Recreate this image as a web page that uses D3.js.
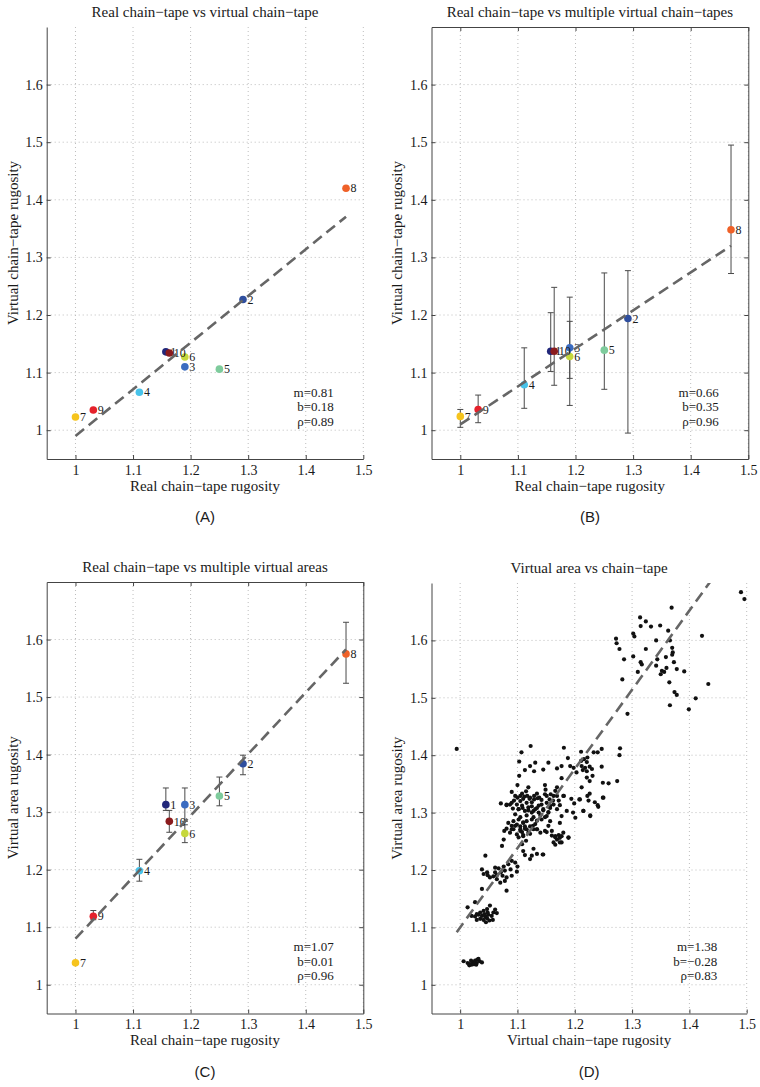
<!DOCTYPE html>
<html>
<head>
<meta charset="utf-8">
<script src="https://cdn.jsdelivr.net/npm/d3@7"></script>
<style>
  body { margin: 0; background: #fff; }
  text { font-family: "Liberation Serif", "Times New Roman", serif; fill: #1a1a1a; }
</style>
</head>
<body>
<script>
// Site numbers and their marker colours
const siteIds = [1, 2, 3, 4, 5, 6, 7, 8, 9, 10];
const siteColors = ["#21277a", "#2f4f9f", "#3b6cc0", "#48c3ea", "#7ecb9c", "#c6d83c", "#f6c41d", "#ef6128", "#e5212b", "#8a1b1d"];

// Real chain-tape rugosity (x for panels A-C)
const realTape = [1.157, 1.291, 1.19, 1.111, 1.25, 1.19, 1.0, 1.47, 1.031, 1.163];
// (A) single virtual chain-tape
const virtualTape = [1.136, 1.227, 1.110, 1.066, 1.106, 1.127, 1.023, 1.420, 1.035, 1.134];
// (B) multiple virtual chain-tapes: mean, min, max
const multiTapeMean = [1.137, 1.194, 1.143, 1.079, 1.139, 1.128, 1.024, 1.348, 1.036, 1.137];
const multiTapeLow = [1.102, 0.995, 1.090, 1.038, 1.071, 1.043, 1.005, 1.272, 1.013, 1.078];
const multiTapeHigh = [1.204, 1.277, 1.231, 1.143, 1.273, 1.189, 1.036, 1.495, 1.061, 1.248];
// (C) multiple virtual areas: mean, min, max
const multiAreaMean = [1.313, 1.384, 1.313, 1.198, 1.328, 1.263, 1.038, 1.575, 1.119, 1.284];
const multiAreaLow = [1.303, 1.365, 1.284, 1.180, 1.311, 1.247, 1.036, 1.524, 1.113, 1.265];
const multiAreaHigh = [1.342, 1.399, 1.342, 1.218, 1.361, 1.278, 1.040, 1.630, 1.129, 1.303];

// (D) every virtual chain-tape vs virtual area
const allTape = [
  1.490,1.496,1.369,1.314,1.324,1.315,1.302,1.304,1.333,1.349,1.363,1.422,1.272,1.273,1.278,1.324,1.342,1.366,1.370,1.371,1.370,1.286,1.302,1.315,1.317,1.344,1.359,1.342,1.373,1.378,1.360,1.352,1.356,1.350,1.310,1.391,1.365,1.283,1.374,1.378,1.366,1.411,1.433,1.399,1.292,
  0.994,1.107,1.123,1.181,1.211,1.247,1.279,1.278,1.233,1.240,1.222,1.188,1.103,1.131,1.154,1.169,1.177,1.192,1.198,1.211,1.216,1.221,1.212,1.218,1.226,1.214,1.221,1.230,1.247,1.122,1.113,1.129,1.145,1.103,1.177,1.203,1.221,1.231,1.249,1.259,1.274,1.226,1.100,1.119,1.148,1.169,1.212,
  1.090,1.096,1.108,1.134,1.148,1.163,1.180,1.071,1.081,1.090,1.099,1.105,1.116,1.125,1.134,1.142,1.151,1.157,1.163,1.169,1.174,1.112,1.121,1.129,1.138,1.156,1.109,1.119,1.128,1.137,1.145,1.154,1.102,1.092,1.194,1.199,1.209,1.222,1.226,1.201,1.215,1.227,1.241,1.249,1.186,1.177,1.115,1.125,
  1.077,1.084,1.093,1.099,1.105,1.110,1.116,1.122,1.128,1.119,1.110,1.105,1.099,1.093,1.087,1.108,1.115,1.110,1.125,1.145,1.134,1.140,1.148,1.154,1.160,1.166,1.169,1.174,1.177,1.163,1.157,1.151,1.142,1.174,1.180,1.189,1.076,1.073,1.102,1.125,1.113,1.131,1.090,1.081,
  1.044,1.038,1.041,1.047,1.061,1.067,1.071,1.078,1.084,1.090,1.096,1.081,1.074,1.064,1.058,1.078,1.090,1.099,1.100,1.081,1.070,1.064,1.038,1.048,1.052,1.061,1.088,1.076,
  1.026,1.013,1.020,1.026,1.032,1.038,1.044,1.049,1.055,1.035,1.041,1.047,1.058,1.061,1.052,1.047,1.041,1.035,1.029,1.051,1.029,1.064,1.057,1.045,1.042,1.048,
  1.006,1.013,1.017,1.022,1.026,1.030,1.034,1.038,1.020,1.016,1.024,1.029,1.032,1.019,1.028,
  1.081,1.087,1.094,1.100,1.105,1.110,1.117,1.122,1.129,1.135,1.142,1.149,1.151,1.158,1.166,1.169,1.172,1.181,1.162,1.108,1.140,
  1.102,1.113,1.119,1.125,1.131,1.137,1.145,1.116,1.128,1.105,1.096,1.148,1.154,1.157,1.134,1.110,
  1.096,1.105,1.116,1.122,1.110,1.102,1.090,1.127,1.134,1.113,1.108,
  1.208,1.224,1.250,1.235,1.197,1.215,1.227,1.240,
  1.151,1.160,1.166,1.172,1.177,1.189,1.166,1.174,
  1.113,1.122,1.128,1.134,1.144
];
const allArea = [
  1.684,1.672,1.657,1.640,1.633,1.625,1.612,1.607,1.624,1.626,1.617,1.608,1.603,1.595,1.585,1.585,1.600,1.600,1.587,1.579,1.575,1.567,1.572,1.562,1.558,1.567,1.571,1.556,1.562,1.550,1.552,1.547,1.545,1.541,1.545,1.546,1.527,1.532,1.510,1.505,1.487,1.499,1.524,1.480,1.472,
  1.411,1.405,1.416,1.413,1.406,1.411,1.412,1.400,1.405,1.405,1.396,1.395,1.389,1.387,1.387,1.377,1.381,1.381,1.378,1.390,1.393,1.388,1.381,1.378,1.380,1.374,1.372,1.376,1.380,1.381,1.374,1.372,1.375,1.364,1.360,1.370,1.361,1.364,1.352,1.351,1.355,1.355,1.348,1.344,1.348,1.344,1.344,
  1.336,1.329,1.333,1.333,1.332,1.329,1.329,1.316,1.314,1.317,1.314,1.320,1.317,1.311,1.308,1.314,1.317,1.308,1.314,1.306,1.313,1.328,1.324,1.323,1.326,1.323,1.308,1.304,1.303,1.300,1.304,1.301,1.306,1.307,1.324,1.316,1.323,1.329,1.333,1.291,1.303,1.294,1.310,1.326,1.303,1.294,1.337,1.318,
  1.268,1.282,1.285,1.279,1.276,1.282,1.285,1.276,1.271,1.265,1.259,1.268,1.262,1.271,1.265,1.245,1.251,1.233,1.225,1.227,1.271,1.265,1.268,1.277,1.268,1.259,1.253,1.256,1.248,1.248,1.285,1.294,1.288,1.282,1.265,1.256,1.253,1.242,1.288,1.288,1.272,1.280,1.277,1.272,
  1.225,1.201,1.193,1.196,1.204,1.203,1.196,1.199,1.210,1.216,1.213,1.187,1.190,1.191,1.189,1.181,1.190,1.197,1.206,1.164,1.178,1.184,1.167,1.191,1.187,1.196,1.201,1.206,
  1.144,1.135,1.120,1.119,1.122,1.120,1.119,1.122,1.120,1.115,1.113,1.116,1.126,1.131,1.138,1.132,1.129,1.126,1.123,1.112,1.113,1.125,1.113,1.109,1.123,1.126,
  1.041,1.038,1.036,1.039,1.042,1.044,1.041,1.039,1.035,1.034,1.036,1.038,1.045,1.042,1.035,
  1.313,1.314,1.321,1.326,1.329,1.324,1.329,1.326,1.329,1.325,1.322,1.340,1.329,1.332,1.338,1.329,1.321,1.329,1.321,1.312,1.295,
  1.306,1.303,1.309,1.300,1.306,1.312,1.306,1.295,1.292,1.292,1.297,1.292,1.300,1.312,1.286,1.283,
  1.277,1.271,1.271,1.263,1.261,1.257,1.271,1.277,1.271,1.276,1.266,
  1.323,1.321,1.326,1.318,1.300,1.303,1.295,1.313,
  1.266,1.260,1.257,1.261,1.259,1.257,1.244,1.248,
  1.226,1.219,1.237,1.228,1.227
];

// Least-squares fits printed in each panel
const fitSlope = [0.81, 0.66, 1.07, 1.38];
const fitIntercept = [0.18, 0.35, 0.01, -0.28];
const fitRho = [0.89, 0.96, 0.96, 0.83];

// Axes
const xTicks = [1, 1.1, 1.2, 1.3, 1.4, 1.5];
const yTicks = [1, 1.1, 1.2, 1.3, 1.4, 1.5, 1.6];
const titles = ["Real chain\u2212tape vs virtual chain\u2212tape", "Real chain\u2212tape vs multiple virtual chain\u2212tapes",
                "Real chain\u2212tape vs multiple virtual areas", "Virtual area vs chain\u2212tape"];
const xLabels = ["Real chain\u2212tape rugosity", "Real chain\u2212tape rugosity", "Real chain\u2212tape rugosity", "Virtual chain\u2212tape rugosity"];
const yLabels = ["Virtual chain\u2212tape rugosity", "Virtual chain\u2212tape rugosity", "Virtual area rugosity", "Virtual area rugosity"];
const panelTags = ["(A)", "(B)", "(C)", "(D)"];

const width = 760, height = 1087;
const svg = d3.select("body").append("svg").attr("width", width).attr("height", height);

// plot boxes of the four panels
const panels = [
  { left: 46.7, right: 363.3, top: 27, bottom: 459, frame: false },
  { left: 431.5, right: 748.3, top: 27, bottom: 459, frame: true },
  { left: 46.7, right: 363.3, top: 582, bottom: 1013.5, frame: true },
  { left: 431.5, right: 746.7, top: 583, bottom: 1013.5, frame: false }
];

const fmt = d3.format("~g");
const axisColor = "#444";
const minus = s => s.replace("-", "\u2212");

panels.forEach((p, i) => {
  const x = d3.scaleLinear().domain([0.95, 1.5]).range([p.left, p.right]);
  const y = d3.scaleLinear().domain([0.95, 1.7]).range([p.bottom, p.top]);
  const g = svg.append("g");

  g.append("clipPath").attr("id", "clip" + i)
    .append("rect").attr("x", p.left).attr("y", p.top)
    .attr("width", p.right - p.left).attr("height", p.bottom - p.top);

  // dotted grid
  g.selectAll(".gx").data(xTicks).join("line")
    .attr("x1", d => x(d)).attr("x2", d => x(d)).attr("y1", p.top).attr("y2", p.bottom)
    .attr("stroke", "#bdbdbd").attr("stroke-dasharray", "1,3");
  g.selectAll(".gy").data(yTicks).join("line")
    .attr("y1", d => y(d)).attr("y2", d => y(d)).attr("x1", p.left).attr("x2", p.right)
    .attr("stroke", "#bdbdbd").attr("stroke-dasharray", "1,3");

  // axes, ticks point inward
  const ax = g.append("g").attr("transform", `translate(0,${p.bottom})`)
    .call(d3.axisBottom(x).tickValues(xTicks).tickFormat(fmt).tickSize(-4).tickSizeOuter(0).tickPadding(6));
  const ay = g.append("g").attr("transform", `translate(${p.left},0)`)
    .call(d3.axisLeft(y).tickValues(yTicks).tickFormat(fmt).tickSize(-4).tickSizeOuter(0).tickPadding(4));
  const axes = [ax, ay];
  if (p.frame) {
    axes.push(g.append("g").attr("transform", `translate(0,${p.top})`)
      .call(d3.axisTop(x).tickValues(xTicks).tickFormat("").tickSize(-4).tickSizeOuter(0)));
    axes.push(g.append("g").attr("transform", `translate(${p.right},0)`)
      .call(d3.axisRight(y).tickValues(yTicks).tickFormat("").tickSize(-4).tickSizeOuter(0)));
  }
  axes.forEach(a => {
    a.select(".domain").attr("stroke", axisColor);
    a.selectAll(".tick line").attr("stroke", axisColor);
    a.selectAll("text").style("font-family", "Liberation Serif, serif").style("font-size", "14px").attr("fill", "#1a1a1a");
  });

  // titles and labels
  const cx = (p.left + p.right) / 2;
  g.append("text").attr("x", cx).attr("y", p.top - 10).attr("text-anchor", "middle")
    .style("font-size", "15px").text(titles[i]);
  g.append("text").attr("x", cx).attr("y", p.bottom + 31.5).attr("text-anchor", "middle")
    .style("font-size", "15px").text(xLabels[i]);
  g.append("text").attr("transform", `translate(${p.left - 34},${(p.top + p.bottom) / 2}) rotate(-90)`)
    .attr("text-anchor", "middle").attr("dy", "0.32em").style("font-size", "15px").text(yLabels[i]);
  g.append("text").attr("x", cx).attr("y", p.bottom + 63).attr("text-anchor", "middle")
    .style("font-family", "Liberation Sans, Arial, sans-serif").style("font-size", "15px").text(panelTags[i]);

  // fit statistics
  const stats = ["m=" + fitSlope[i].toFixed(2), minus("b=" + fitIntercept[i].toFixed(2)), "\u03c1=" + fitRho[i].toFixed(2)];
  g.selectAll(".stat").data(stats).join("text")
    .attr("x", p.right - 29.5).attr("y", (d, k) => p.bottom - 62.5 + k * 14.5)
    .attr("text-anchor", "end").style("font-size", "13px").text(d => d);

  const fitLine = xs => {
    const ext = d3.extent(xs);
    g.append("line")
      .attr("x1", x(ext[0])).attr("y1", y(fitSlope[i] * ext[0] + fitIntercept[i]))
      .attr("x2", x(ext[1])).attr("y2", y(fitSlope[i] * ext[1] + fitIntercept[i]))
      .attr("clip-path", `url(#clip${i})`)
      .attr("stroke", "#666").attr("stroke-width", 2.6).attr("stroke-dasharray", "11,6");
  };

  if (i < 3) {
    const ys = [virtualTape, multiTapeMean, multiAreaMean][i];
    const lows = [null, multiTapeLow, multiAreaLow][i];
    const highs = [null, multiTapeHigh, multiAreaHigh][i];
    const sites = siteIds.map((id, k) => ({ id, xv: realTape[k], yv: ys[k], lo: lows && lows[k], hi: highs && highs[k], c: siteColors[k] }));

    if (lows) {
      const eb = g.selectAll(".eb").data(sites).join("g").attr("stroke", "#4a4a4a").attr("stroke-width", 1);
      eb.append("line").attr("x1", d => x(d.xv)).attr("x2", d => x(d.xv)).attr("y1", d => y(d.lo)).attr("y2", d => y(d.hi));
      eb.append("line").attr("x1", d => x(d.xv) - 3).attr("x2", d => x(d.xv) + 3).attr("y1", d => y(d.lo)).attr("y2", d => y(d.lo));
      eb.append("line").attr("x1", d => x(d.xv) - 3).attr("x2", d => x(d.xv) + 3).attr("y1", d => y(d.hi)).attr("y2", d => y(d.hi));
    }
    g.selectAll(".site").data(sites).join("circle")
      .attr("cx", d => x(d.xv)).attr("cy", d => y(d.yv)).attr("r", 3.8).attr("fill", d => d.c);
    g.selectAll(".lab").data(sites).join("text")
      .attr("x", d => x(d.xv) + 4.5).attr("y", d => y(d.yv) + 4.2)
      .style("font-size", "12px").text(d => d.id);
    fitLine(realTape);
  } else {
    g.selectAll(".pt").data(allTape.map((v, k) => [v, allArea[k]])).join("circle")
      .attr("cx", d => x(d[0])).attr("cy", d => y(d[1])).attr("r", 2.1).attr("fill", "#111");
    fitLine(allTape);
  }
});
</script>
</body>
</html>
